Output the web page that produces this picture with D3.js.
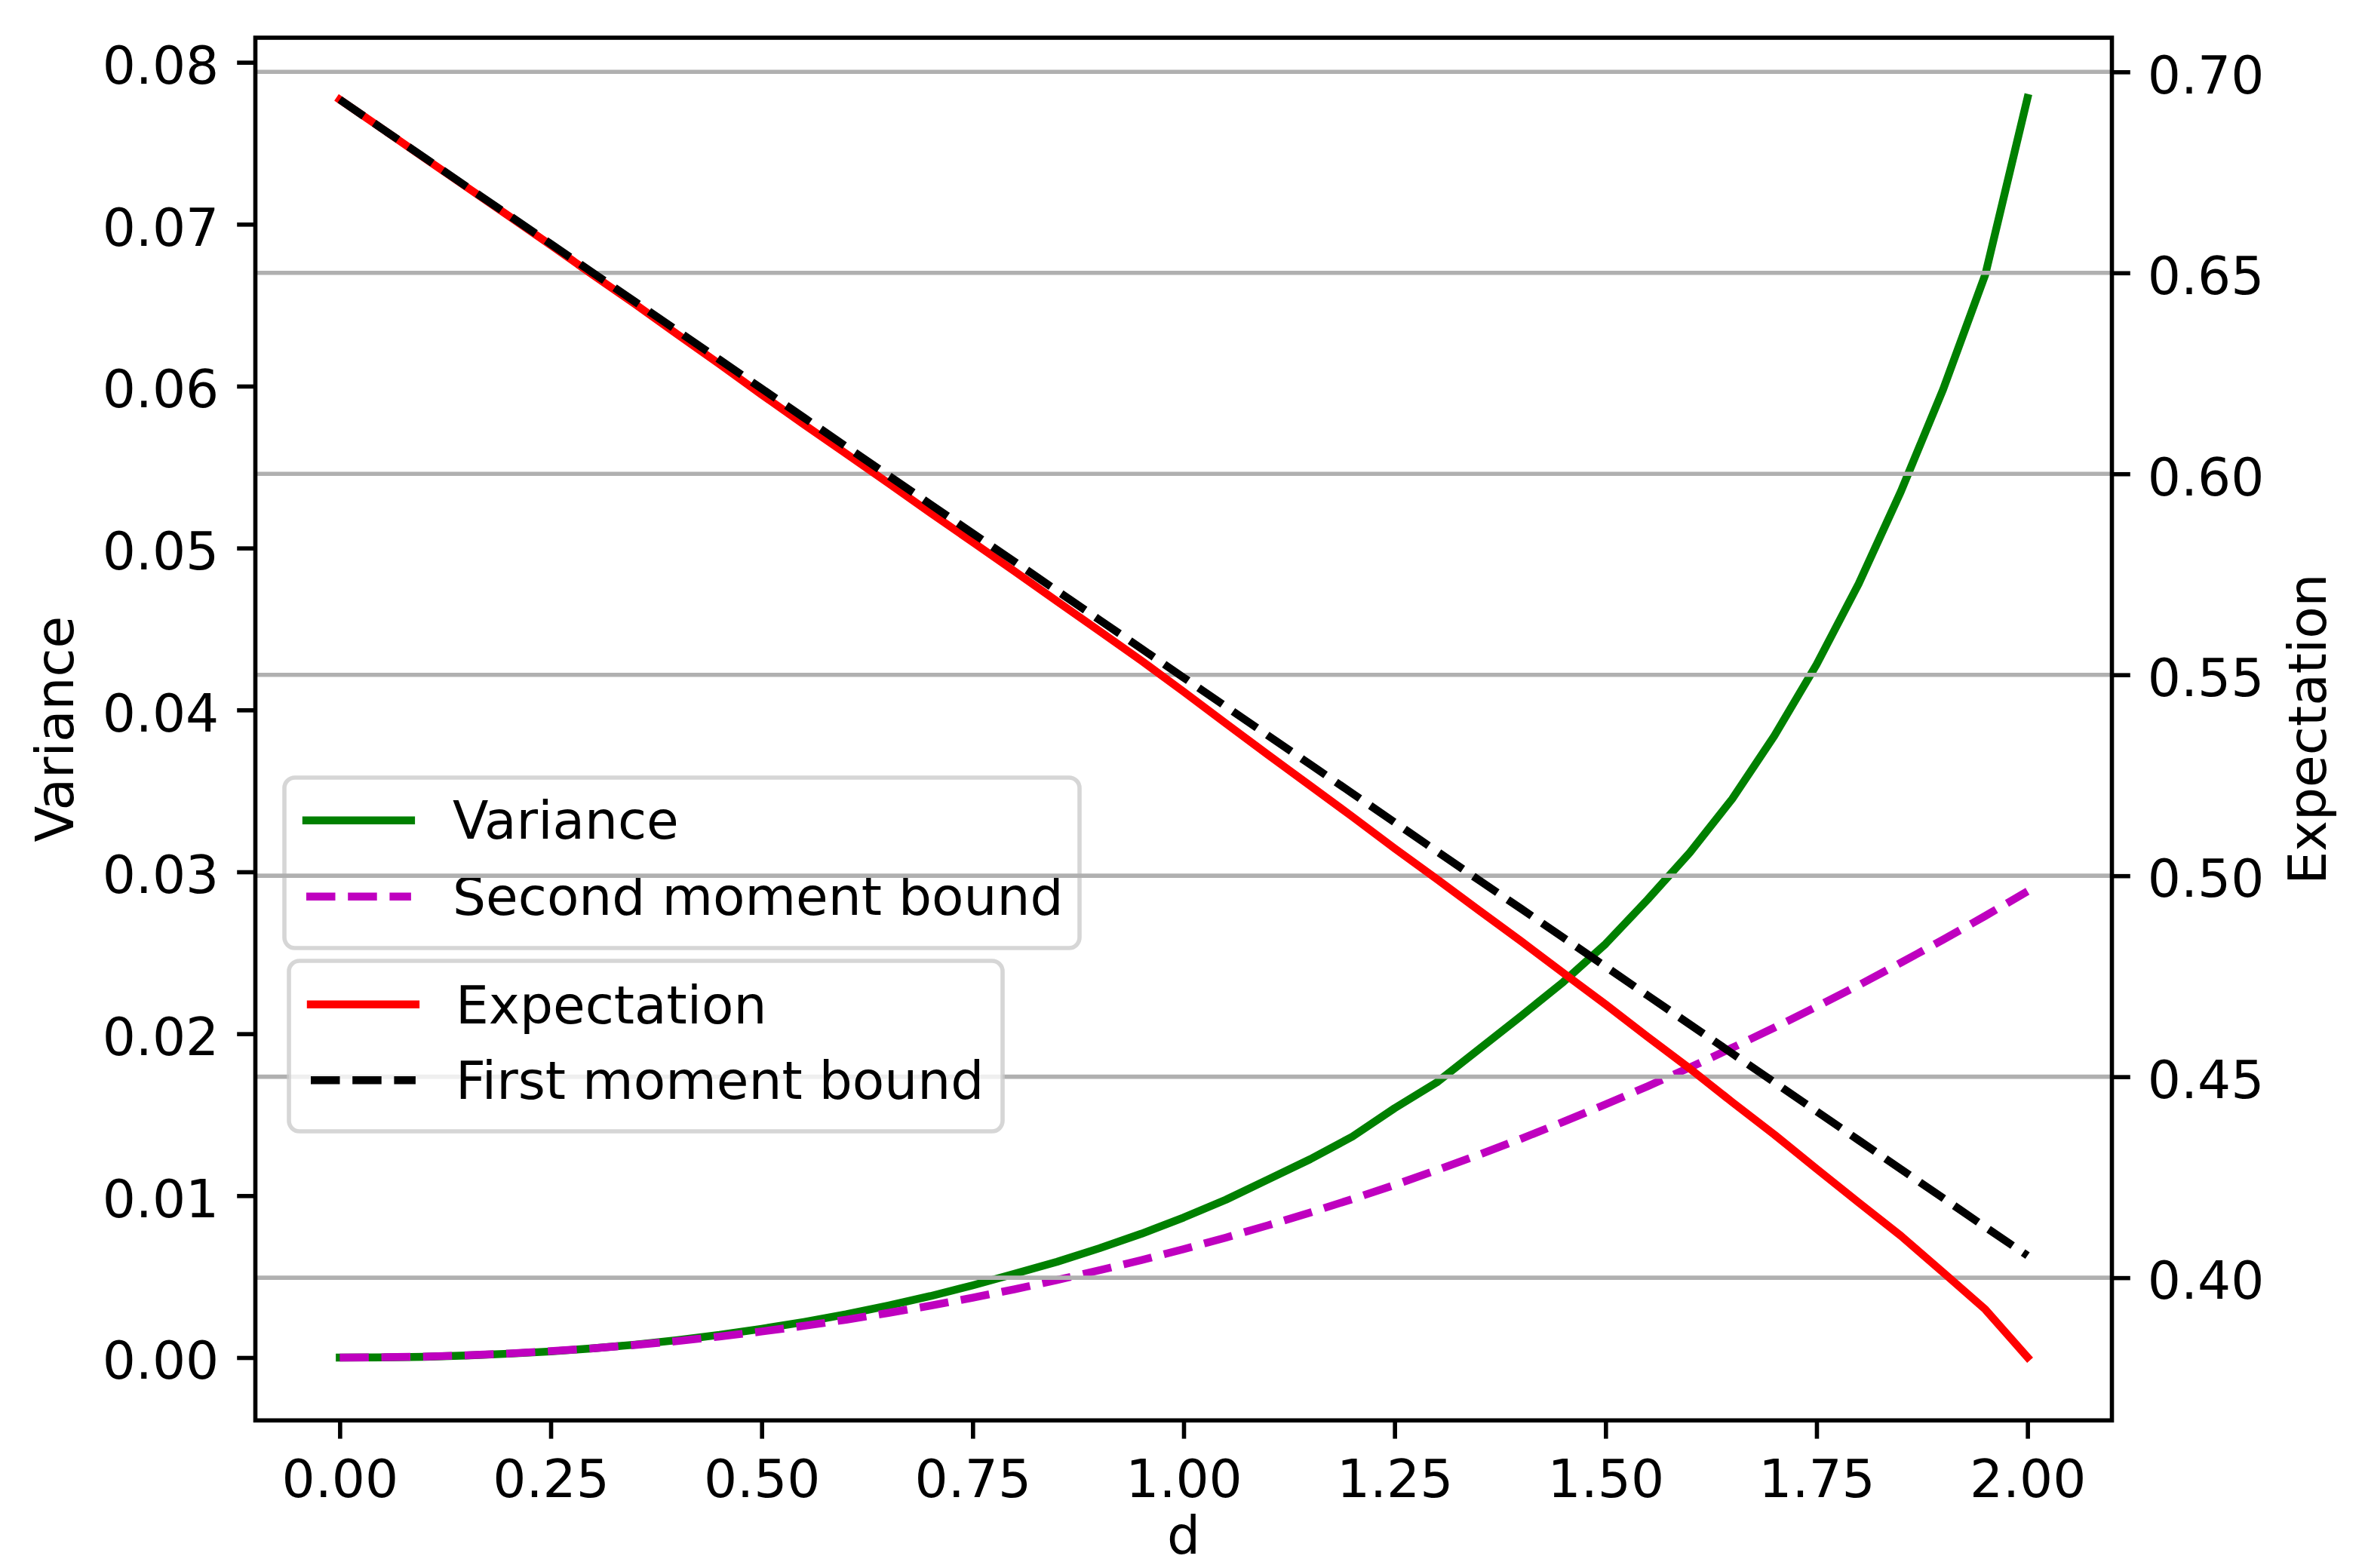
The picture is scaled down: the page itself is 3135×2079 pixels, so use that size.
<!DOCTYPE html>
<html><head><meta charset="utf-8">
<script src="https://cdn.jsdelivr.net/npm/d3@7"></script>
<style>
body{margin:0;background:#fff}
svg{display:block}
text{font-family:"DejaVu Sans";fill:#000}
</style>
</head><body><div id="chart"></div>
<script>
// ---- data ----
const d = [0.00,0.05,0.10,0.15,0.20,0.25,0.30,0.35,0.40,0.45,0.50,0.55,0.60,0.65,0.70,0.75,0.80,0.85,0.90,0.95,
           1.00,1.05,1.10,1.15,1.20,1.25,1.30,1.35,1.40,1.45,1.50,1.55,1.60,1.65,1.70,1.75,1.80,1.85,1.90,1.95,2.00];
const variance = [0.00000,0.00001,0.00005,0.00013,0.00024,0.00038,0.00057,0.00080,0.00108,0.00140,0.00178,0.00220,0.00267,0.00321,0.00380,0.00446,0.00518,0.00592,0.00675,0.00765,
                  0.00865,0.00975,0.01100,0.01225,0.01365,0.01540,0.01700,0.01905,0.02110,0.02320,0.02555,0.02830,0.03120,0.03450,0.03840,0.04280,0.04780,0.05350,0.05980,0.06690,0.07780];
const secondMoment = [0,0.00002,0.00006,0.00014,0.00025,0.00040,0.00057,0.00078,0.00102,0.00130,0.00161,0.00196,0.00234,0.00276,0.00321,0.00370,0.00422,0.00479,0.00539,0.00602,
                      0.00670,0.00741,0.00817,0.00896,0.00979,0.01066,0.01158,0.01253,0.01352,0.01456,0.01564,0.01676,0.01792,0.01913,0.02038,0.02167,0.02300,0.02439,0.02581,0.02728,0.02880];
const expectation = [0.6931,0.6859,0.6786,0.6714,0.6642,0.6569,0.6495,0.6422,0.6347,0.6273,0.6197,0.6123,0.6050,0.5977,0.5903,0.5830,0.5757,0.5683,0.5609,0.5535,
                     0.5458,0.5379,0.5301,0.5224,0.5147,0.5068,0.4992,0.4914,0.4837,0.4758,0.4680,0.4599,0.4520,0.4437,0.4356,0.4271,0.4187,0.4104,0.4013,0.3921,0.3802];
const firstMoment = [0.6931,0.6859,0.6787,0.6715,0.6644,0.6572,0.6500,0.6428,0.6356,0.6284,0.6212,0.6140,0.6068,0.5996,0.5924,0.5852,0.5781,0.5709,0.5637,0.5565,
                     0.5493,0.5421,0.5349,0.5277,0.5205,0.5133,0.5061,0.4989,0.4918,0.4846,0.4774,0.4702,0.4630,0.4558,0.4486,0.4414,0.4342,0.4270,0.4198,0.4126,0.4055];
const xTicks = [0,0.25,0.5,0.75,1.0,1.25,1.5,1.75,2.0];
const leftTicks = [0,0.01,0.02,0.03,0.04,0.05,0.06,0.07,0.08];
const rightTicks = [0.40,0.45,0.50,0.55,0.60,0.65,0.70];
const legend1Labels = ["Variance","Second moment bound"];
const legend2Labels = ["Expectation","First moment bound"];

// ---- layout ----
const W=3135,H=2079;
const L=338.5,R=2799.5,T=50,B=1883.3;
const FS=69.4, LW=10.4, AW=5.6, TL=24.3;
const DASH="38.5,16.7";

const x=d3.scaleLinear().domain([-0.1,2.1]).range([L,R]);
const yL=d3.scaleLinear().domain([-0.00388,0.08152]).range([B,T]);
const yR=d3.scaleLinear().domain([0.3645,0.7085]).range([B,T]);
const fmt=d3.format(".2f");

const svg=d3.select("#chart").append("svg").attr("width",W).attr("height",H);
svg.append("rect").attr("width",W).attr("height",H).attr("fill","#fff");
svg.append("defs").append("clipPath").attr("id","clip")
  .append("rect").attr("x",L).attr("y",T).attr("width",R-L).attr("height",B-T);

const lineL=d3.line().x((v,i)=>x(d[i])).y(v=>yL(v));
const lineR=d3.line().x((v,i)=>x(d[i])).y(v=>yR(v));

// ---- first axes: variance & second moment ----
const g1=svg.append("g").attr("clip-path","url(#clip)");
g1.append("path").datum(variance).attr("d",lineL).attr("fill","none")
  .attr("stroke","#008000").attr("stroke-width",LW).attr("stroke-linecap","square").attr("stroke-linejoin","round");
g1.append("path").datum(secondMoment).attr("d",lineL).attr("fill","none")
  .attr("stroke","#bf00bf").attr("stroke-width",LW).attr("stroke-dasharray",DASH).attr("stroke-linejoin","round");

function styleAxis(g){
  g.select(".domain").remove();
  g.selectAll(".tick line").attr("stroke","#000").attr("stroke-width",AW);
  g.selectAll(".tick text").attr("font-size",FS).attr("font-family","DejaVu Sans").attr("fill","#000");
}
const axL=svg.append("g").attr("transform",`translate(${L},0)`)
  .call(d3.axisLeft(yL).tickValues(leftTicks).tickFormat(fmt).tickSize(TL).tickPadding(24));
styleAxis(axL); axL.selectAll(".tick text").attr("dy","0.4em");
const axB=svg.append("g").attr("transform",`translate(0,${B})`)
  .call(d3.axisBottom(x).tickValues(xTicks).tickFormat(fmt).tickSize(TL).tickPadding(28));
styleAxis(axB);

// legend 1 (belongs to first axes, under twin grid)
function legend(g,bx,by,bw,bh,items,hx,tx,rows){
  g.append("rect").attr("x",bx).attr("y",by).attr("width",bw).attr("height",bh).attr("rx",14)
    .attr("fill","#fff").attr("fill-opacity",0.8).attr("stroke","#cccccc").attr("stroke-opacity",0.8).attr("stroke-width",AW);
  items.forEach((it,i)=>{
    const r=rows[i];
    const ln=g.append("line").attr("x1",hx).attr("x2",hx+138.9).attr("y1",r.hy).attr("y2",r.hy)
      .attr("stroke",it.color).attr("stroke-width",LW);
    if(it.dash) ln.attr("stroke-dasharray",DASH); else ln.attr("stroke-linecap","square");
    g.append("text").attr("x",tx).attr("y",r.ty).attr("font-size",FS).text(it.label);
  });
}
legend(svg.append("g"),377,1031,1054,226,
  [{label:legend1Labels[0],color:"#008000",dash:false},{label:legend1Labels[1],color:"#bf00bf",dash:true}],
  406,600,[{hy:1087.7,ty:1111.7},{hy:1188.7,ty:1212.7}]);

// ---- twin axes: grid, expectation, first moment ----
svg.append("g").selectAll("line").data(rightTicks).join("line")
  .attr("x1",L).attr("x2",R).attr("y1",v=>yR(v)).attr("y2",v=>yR(v))
  .attr("stroke","#b0b0b0").attr("stroke-width",AW);
const g2=svg.append("g").attr("clip-path","url(#clip)");
g2.append("path").datum(expectation).attr("d",lineR).attr("fill","none")
  .attr("stroke","#ff0000").attr("stroke-width",LW).attr("stroke-linecap","square").attr("stroke-linejoin","round");
g2.append("path").datum(firstMoment).attr("d",lineR).attr("fill","none")
  .attr("stroke","#000").attr("stroke-width",LW).attr("stroke-dasharray",DASH).attr("stroke-linejoin","round");

// spines
svg.append("rect").attr("x",L).attr("y",T).attr("width",R-L).attr("height",B-T)
  .attr("fill","none").attr("stroke","#000").attr("stroke-width",AW).attr("stroke-linejoin","miter");

const axR=svg.append("g").attr("transform",`translate(${R},0)`)
  .call(d3.axisRight(yR).tickValues(rightTicks).tickFormat(fmt).tickSize(TL).tickPadding(23));
styleAxis(axR); axR.selectAll(".tick text").attr("dy","0.4em");

legend(svg.append("g"),383,1274,946,226,
  [{label:legend2Labels[0],color:"#ff0000",dash:false},{label:legend2Labels[1],color:"#000",dash:true}],
  412,604,[{hy:1331.7,ty:1356.7},{hy:1432.3,ty:1456.7}]);

// axis labels
svg.append("text").attr("x",(L+R)/2).attr("y",2060).attr("text-anchor","middle").attr("font-size",FS).text("d");
svg.append("text").attr("transform",`translate(97,${(T+B)/2}) rotate(-90)`).attr("text-anchor","middle").attr("font-size",FS).text("Variance");
svg.append("text").attr("transform",`translate(3083,${(T+B)/2}) rotate(-90)`).attr("text-anchor","middle").attr("font-size",FS).text("Expectation");
</script>
</body></html>
